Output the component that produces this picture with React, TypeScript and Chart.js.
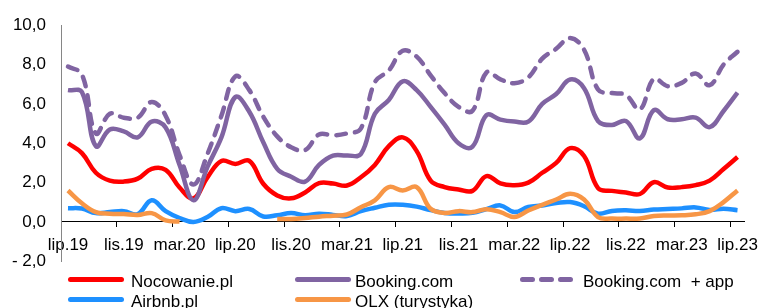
import React, { useEffect, useRef } from 'react';
import { Chart, registerables } from 'chart.js';

Chart.register(...registerables);

const FONT = "'Liberation Sans', Arial, sans-serif";

const categories = [
  'lip.19', 'sie.19', 'wrz.19', 'paź.19', 'lis.19', 'gru.19',
  'sty.20', 'lut.20', 'mar.20', 'kwi.20', 'maj.20', 'cze.20',
  'lip.20', 'sie.20', 'wrz.20', 'paź.20', 'lis.20', 'gru.20',
  'sty.21', 'lut.21', 'mar.21', 'kwi.21', 'maj.21', 'cze.21',
  'lip.21', 'sie.21', 'wrz.21', 'paź.21', 'lis.21', 'gru.21',
  'sty.22', 'lut.22', 'mar.22', 'kwi.22', 'maj.22', 'cze.22',
  'lip.22', 'sie.22', 'wrz.22', 'paź.22', 'lis.22', 'gru.22',
  'sty.23', 'lut.23', 'mar.23', 'kwi.23', 'maj.23', 'cze.23',
  'lip.23',
];

const nocowanie = [
  4.0, 3.5, 2.5, 2.1, 2.05, 2.2, 2.7, 2.65, 1.75, 1.2, 2.27, 3.1,
  2.95, 3.1, 1.94, 1.35, 1.2, 1.5, 1.97, 1.95, 1.85, 2.27, 2.9, 3.85,
  4.3, 3.6, 2.1, 1.77, 1.65, 1.58, 2.33, 1.96, 1.87, 2.0, 2.5, 3.0,
  3.75, 3.35, 1.72, 1.58, 1.5, 1.42, 2.02, 1.75, 1.77, 1.87, 2.1, 2.69,
  3.3,
];

const booking = [
  6.7, 6.6, 3.85, 4.7, 4.6, 4.3, 5.1, 4.8, 2.9, 1.1, 2.8, 4.3,
  6.35, 5.6, 4.05, 2.7, 2.3, 2.05, 2.9, 3.37, 3.38, 3.45, 5.5, 6.2,
  7.15, 6.7, 5.85, 4.95, 4.0, 3.83, 5.43, 5.2, 5.1, 5.1, 6.0, 6.5,
  7.24, 6.8, 5.13, 4.93, 5.13, 4.25, 5.68, 5.22, 5.22, 5.3, 4.82, 5.64,
  6.57,
];

const bookingApp = [
  7.9, 7.5, 4.5, 5.5, 5.3, 5.3, 6.1, 5.4, 3.4, 1.9, 3.45, 5.4,
  7.4, 6.7, 5.35, 4.35, 3.8, 3.65, 4.45, 4.4, 4.5, 4.75, 7.1, 7.7,
  8.7, 8.4, 7.45, 6.55, 5.85, 5.65, 7.6, 7.25, 7.05, 7.35, 8.3, 8.8,
  9.35, 8.75, 6.73, 6.55, 6.45, 5.72, 7.27, 6.9, 7.07, 7.55, 6.95, 8.0,
  8.65,
];

const airbnb = [
  0.7, 0.68, 0.45, 0.5, 0.55, 0.4, 1.1, 0.55, 0.2, 0.0, 0.25, 0.7,
  0.55, 0.66, 0.28, 0.34, 0.45, 0.34, 0.42, 0.36, 0.3, 0.55, 0.72, 0.87,
  0.87, 0.78, 0.6, 0.46, 0.43, 0.46, 0.65, 0.84, 0.5, 0.76, 0.84, 0.96,
  1.01, 0.8, 0.42, 0.56, 0.59, 0.56, 0.63, 0.66, 0.69, 0.74, 0.61, 0.67,
  0.6,
];

const olx = [
  1.6, 0.95, 0.5, 0.42, 0.4, 0.35, 0.45, 0.08, 0.02, null, null, null,
  null, null, null, 0.15, 0.15, 0.2, 0.27, 0.32, 0.38, 0.75, 1.1, 1.77,
  1.6, 1.77, 0.67, 0.46, 0.55, 0.5, 0.65, 0.5, 0.25, 0.58, 0.87, 1.14,
  1.43, 1.14, 0.25, 0.17, 0.17, 0.18, 0.3, 0.33, 0.34, 0.39, 0.55, 1.01,
  1.6,
];

const seriesNames = ['Nocowanie.pl', 'Booking.com', 'Booking.com  + app', 'Airbnb.pl', 'OLX (turystyka)'];
const seriesColors = ['#FF0000', '#8064A2', '#8064A2', '#1E90FF', '#F79646'];
const yTicks = [-2, 0, 2, 4, 6, 8, 10];

const fmt = (v: number) => {
  const s = Math.abs(v).toFixed(1).replace('.', ',');
  return v < 0 ? '- ' + s : s;
};

const DASH = [10, 9];

const legendPlugin = {
  id: 'gridLegend',
  afterDraw(chart: any) {
    const ctx = chart.ctx as CanvasRenderingContext2D;
    const lineStart = [68, 295, 520];
    const textStart = [131, 355, 583];
    const rowY = [279.5, 299.5];
    const lineLen = 56;
    ctx.save();
    chart.data.datasets.forEach((ds: any, k: number) => {
      const row = Math.floor(k / 3);
      const col = k % 3;
      const y = rowY[row];
      ctx.beginPath();
      ctx.strokeStyle = ds.borderColor;
      ctx.lineWidth = 5;
      ctx.lineCap = 'round';
      ctx.setLineDash(ds.borderDash && ds.borderDash.length ? DASH : []);
      ctx.moveTo(lineStart[col] + 2.5, y);
      ctx.lineTo(lineStart[col] + lineLen - 2.5, y);
      ctx.stroke();
      ctx.setLineDash([]);
      ctx.fillStyle = '#000';
      ctx.font = `17px ${FONT}`;
      ctx.textAlign = 'left';
      ctx.textBaseline = 'alphabetic';
      ctx.fillText(ds.label, textStart[col], y + 7);
    });
    ctx.restore();
  },
};

export default function App() {
  const ref = useRef<HTMLCanvasElement | null>(null);

  useEffect(() => {
    document.body.style.margin = '0';
    const canvas = ref.current;
    if (!canvas) return;
    const seriesData = [nocowanie, booking, bookingApp, airbnb, olx];
    const datasets = seriesData.map((d, k) => ({
      label: seriesNames[k],
      data: d,
      borderColor: seriesColors[k],
      backgroundColor: seriesColors[k],
      borderWidth: 4.5,
      borderDash: k === 2 ? DASH : [],
      borderCapStyle: k === 2 ? 'round' : 'butt',
      borderJoinStyle: 'round',
      pointRadius: 0,
      tension: 0.4,
      fill: false,
      spanGaps: false,
      order: 5 - k,
    }));

    const chart = new Chart(canvas, {
      type: 'line',
      data: { labels: categories, datasets: datasets as any },
      options: {
        animation: false,
        responsive: false,
        maintainAspectRatio: false,
        devicePixelRatio: 1,
        layout: { padding: { left: 0, right: 16, top: 24, bottom: 46.7 } },
        plugins: {
          legend: { display: false },
          tooltip: { enabled: false },
        },
        scales: {
          x: {
            type: 'category',
            position: { y: 0 } as any,
            offset: true,
            grid: {
              display: true,
              offset: true,
              drawOnChartArea: false,
              drawTicks: true,
              tickLength: 5,
              lineWidth: 1,
              color: (c: any) =>
                c.index !== undefined && c.index > 0 && c.index % 4 === 0 ? '#000' : 'rgba(0,0,0,0)',
            },
            border: { display: true, color: '#000', width: 1 },
            ticks: {
              autoSkip: false,
              maxRotation: 0,
              minRotation: 0,
              padding: 8,
              color: '#000',
              font: { family: FONT, size: 17 },
              callback: (_v: any, i: number) => (i % 4 === 0 ? categories[i] : ''),
            },
          },
          y: {
            min: yTicks[0],
            max: yTicks[yTicks.length - 1],
            afterBuildTicks: (s: any) => {
              s.ticks = yTicks.map((v) => ({ value: v }));
            },
            ticks: {
              padding: 15,
              color: '#000',
              font: { family: FONT, size: 17 },
              callback: (v: any) => fmt(Number(v)),
            },
            grid: { display: false, drawTicks: false },
            border: { display: true, color: '#868686', width: 1 },
            afterFit: (s: any) => {
              s.width = 61;
            },
          },
        },
      } as any,
      plugins: [legendPlugin],
    });
    return () => chart.destroy();
  }, []);

  return (
    <div style={{ position: 'absolute', left: 0, top: 0, width: 766, height: 308, background: '#fff' }}>
      <canvas ref={ref} width={766} height={308} style={{ display: 'block', width: 766, height: 308 }} />
    </div>
  );
}
